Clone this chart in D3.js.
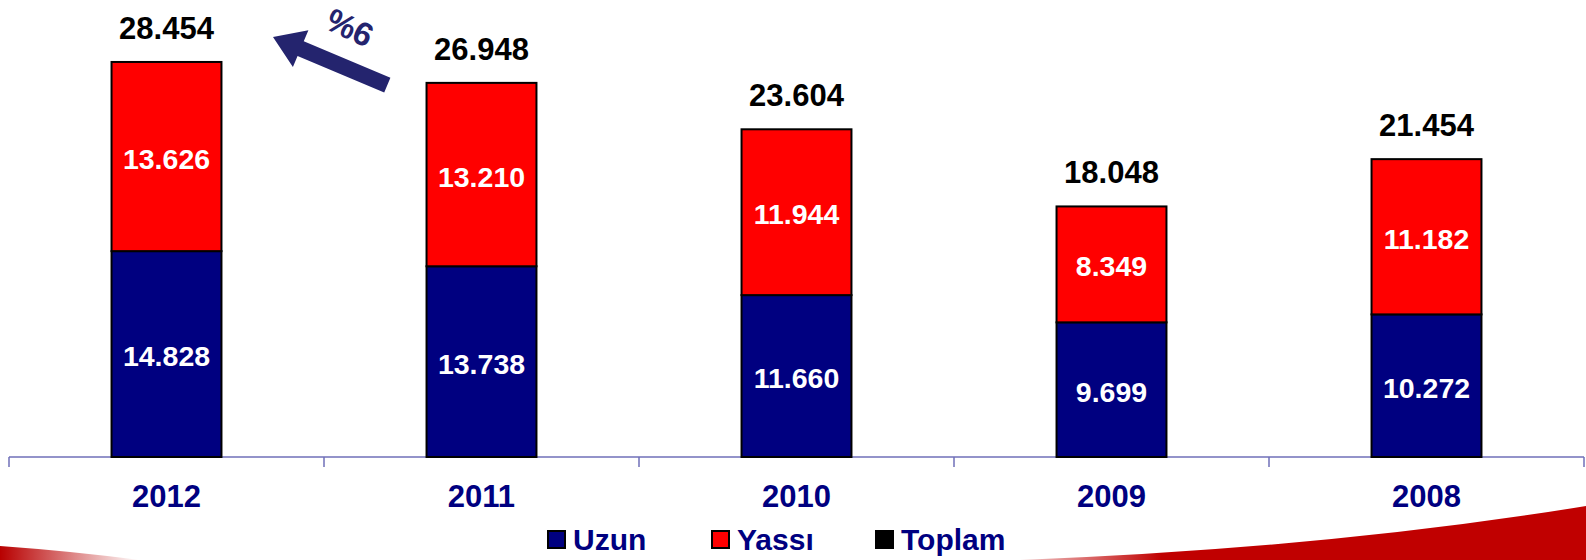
<!DOCTYPE html>
<html>
<head>
<meta charset="utf-8">
<script src="https://cdn.jsdelivr.net/npm/d3@7"></script>
<style>
  html, body { margin: 0; padding: 0; background: #fff; }
  svg { display: block; font-family: "Liberation Sans", Arial, sans-serif; font-weight: bold; }
</style>
</head>
<body>
<svg id="chart" width="1586" height="560"></svg>
<script>
// chart data
var years  = ['2012', '2011', '2010', '2009', '2008'];
var uzun   = [14828, 13738, 11660, 9699, 10272];
var yassi  = [13626, 13210, 11944, 8349, 11182];
var toplam = [28454, 26948, 23604, 18048, 21454];
var legendNames = ['Uzun', 'Yassı', 'Toplam'];

var navy = '#000080', red = '#ff0000';
var fmt = function(v) { return d3.format(',')(v).replace(/,/g, '.'); };

var svg = d3.select('#chart');
var baseY = 457;

var x = d3.scaleBand().domain(years).range([9, 1584]).paddingInner(0.651).paddingOuter(0.3255);
var y = d3.scaleLinear().domain([0, 30000]).range([baseY, baseY - 416.5]);

// bottom swoosh decoration
var defs = svg.append('defs');
var lg = defs.append('linearGradient').attr('id', 'fadeL').attr('x1', 0).attr('x2', 1).attr('y1', 0).attr('y2', 0);
lg.append('stop').attr('offset', '0%').attr('stop-color', '#b80000');
lg.append('stop').attr('offset', '100%').attr('stop-color', '#b80000').attr('stop-opacity', 0);
svg.append('path').attr('d', 'M0,546 Q70,551 140,560 L0,560 Z').attr('fill', 'url(#fadeL)');
var rg = defs.append('linearGradient').attr('id', 'fadeR').attr('x1', 0).attr('x2', 1).attr('y1', 0).attr('y2', 0);
rg.append('stop').attr('offset', '0%').attr('stop-color', '#c00000').attr('stop-opacity', 0.2);
rg.append('stop').attr('offset', '25%').attr('stop-color', '#c00000');
rg.append('stop').attr('offset', '100%').attr('stop-color', '#c00000');
svg.append('path').attr('d', 'M1020,560 Q1330,548 1586,506 L1586,560 Z').attr('fill', 'url(#fadeR)');

// axis line + ticks between categories
var axisG = svg.append('g').attr('stroke', '#6f6fb8').attr('stroke-width', 1.5);
axisG.append('line').attr('x1', 9).attr('x2', 1584).attr('y1', baseY).attr('y2', baseY);
d3.range(years.length + 1).forEach(function(i) {
  var tx = 9 + i * x.step();
  axisG.append('line').attr('x1', tx).attr('x2', tx).attr('y1', baseY).attr('y2', baseY + 10);
});

// stacked bars
var bars = svg.append('g').selectAll('g').data(years).join('g');
bars.append('rect')
  .attr('x', function(d) { return x(d); })
  .attr('width', x.bandwidth())
  .attr('y', function(d, i) { return y(uzun[i]); })
  .attr('height', function(d, i) { return baseY - y(uzun[i]); })
  .attr('fill', navy).attr('stroke', '#000').attr('stroke-width', 2);
bars.append('rect')
  .attr('x', function(d) { return x(d); })
  .attr('width', x.bandwidth())
  .attr('y', function(d, i) { return y(uzun[i] + yassi[i]); })
  .attr('height', function(d, i) { return y(uzun[i]) - y(uzun[i] + yassi[i]); })
  .attr('fill', red).attr('stroke', '#000').attr('stroke-width', 2);

// labels inside the segments
bars.append('text')
  .attr('x', function(d) { return x(d) + x.bandwidth() / 2; })
  .attr('y', function(d, i) { return (y(uzun[i]) + baseY) / 2 + 12; })
  .attr('text-anchor', 'middle').attr('fill', '#fff').attr('font-size', 28.5)
  .text(function(d, i) { return fmt(uzun[i]); });
bars.append('text')
  .attr('x', function(d) { return x(d) + x.bandwidth() / 2; })
  .attr('y', function(d, i) { return (y(uzun[i]) + y(uzun[i] + yassi[i])) / 2 + 12; })
  .attr('text-anchor', 'middle').attr('fill', '#fff').attr('font-size', 28.5)
  .text(function(d, i) { return fmt(yassi[i]); });

// totals
bars.append('text')
  .attr('x', function(d) { return x(d) + x.bandwidth() / 2; })
  .attr('y', function(d, i) { return y(toplam[i]) - 23; })
  .attr('text-anchor', 'middle').attr('fill', '#000').attr('font-size', 31)
  .text(function(d, i) { return fmt(toplam[i]); });

// category labels
bars.append('text')
  .attr('x', function(d) { return x(d) + x.bandwidth() / 2; })
  .attr('y', 507)
  .attr('text-anchor', 'middle').attr('fill', navy).attr('font-size', 31)
  .text(function(d) { return d; });

// legend
var legColors = [navy, red, '#000'];
var leg = svg.append('g').selectAll('g').data(legendNames).join('g')
  .attr('transform', function(d, i) { return 'translate(' + (548 + i * 164) + ',531)'; });
leg.append('rect').attr('width', 17).attr('height', 17)
  .attr('fill', function(d, i) { return legColors[i]; })
  .attr('stroke', '#000').attr('stroke-width', 2);
leg.append('text').attr('x', 25).attr('y', 19).attr('fill', navy).attr('font-size', 30)
  .text(function(d) { return d; });

// growth arrow
var arrowCol = '#24246e';
var arr = svg.append('g').attr('transform', 'translate(273,37) rotate(22.8)');
arr.append('path')
  .attr('d', 'M0,0 L30,-20 L30,-8 L124,-8 L124,8 L30,8 L30,20 Z')
  .attr('fill', arrowCol);
svg.append('text')
  .attr('transform', 'translate(345,38) rotate(25)')
  .attr('text-anchor', 'middle').attr('fill', arrowCol).attr('font-size', 33)
  .text('%6');
</script>
</body>
</html>
